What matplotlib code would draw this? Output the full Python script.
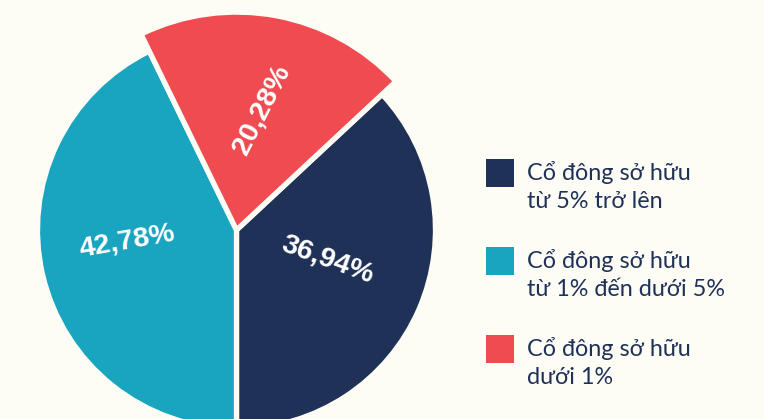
import math
import matplotlib
matplotlib.use("Agg")
import matplotlib.pyplot as plt

# ---- data ----
categories = ["Cổ đông sở hữu\ntừ 5% trở lên",
              "Cổ đông sở hữu\ntừ 1% đến dưới 5%",
              "Cổ đông sở hữu\ndưới 1%"]
values = [36.94, 42.78, 20.28]
colors = ["#1F3157", "#19A4C0", "#EF4B50"]

BG = "#FDFDF6"
TEXT = "#1F3157"

W, H = 764, 419
fig = plt.figure(figsize=(W / 100, H / 100), dpi=100, facecolor=BG)
ax = fig.add_axes([0, 0, 1, 1])
ax.set_facecolor(BG)

cx, cy, R = 236.5, 189, 199
start = -90 + values[0] / sum(values) * 360

wedges, _ = ax.pie(values, colors=colors, startangle=start, counterclock=False,
                   radius=R, center=(cx, cy),
                   wedgeprops=dict(edgecolor=BG, linewidth=3.8))
# the smallest slice is drawn with a larger radius
wedges[2].set_radius(R * 1.095)

ax.set_xlim(0, W)
ax.set_ylim(0, H)
ax.set_aspect("equal")
ax.axis("off")

# value labels (angle in degrees, distance as fraction of radius, rotation)
label_layout = [(-18, 0.48, -20), (186, 0.55, 10), (78, 0.62, 63)]
for v, (ang, dist, rot) in zip(values, label_layout):
    a = math.radians(ang)
    ax.text(cx + dist * R * math.cos(a), cy + dist * R * math.sin(a),
            f"{v:.2f}".replace(".", ",") + "%",
            ha="center", va="center", rotation=rot, rotation_mode="anchor",
            color="white", fontsize=20.5, fontweight="bold",
            family=["Liberation Sans", "DejaVu Sans"])

# legend
sq_x, sq_size = 486, 28
sq_tops = [159, 247, 335]
for col, cat, top in zip(colors, categories, sq_tops):
    ax.add_patch(plt.Rectangle((sq_x, H - top - sq_size), sq_size, sq_size,
                               facecolor=col, edgecolor="none"))
    for i, line in enumerate(cat.split("\n")):
        ax.text(527, H - (top + 21 + 28 * i), line, ha="left", va="baseline",
                color=TEXT, fontsize=16.8,
                family=["Lato", "Noto Sans", "DejaVu Sans"])

fig.savefig("out.png", dpi=100, facecolor=BG)
